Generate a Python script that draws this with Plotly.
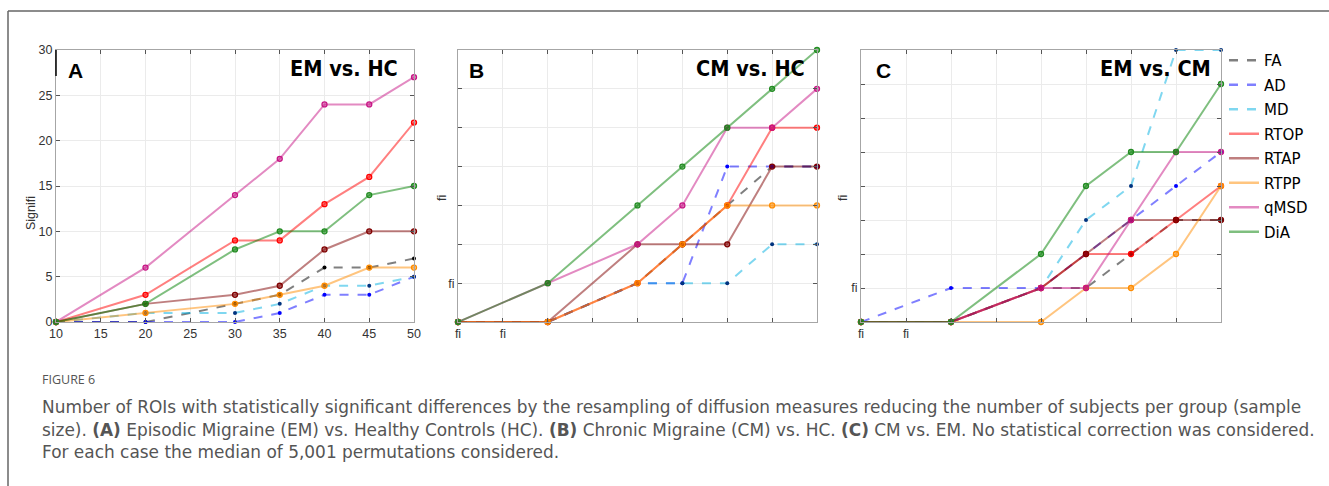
import plotly.graph_objects as go

W, H = 1329, 486

# ---------------- data ----------------
sample_sizes = [10, 20, 30, 35, 40, 45, 50]
series_names = ["FA", "AD", "MD", "RTOP", "RTAP", "RTPP", "qMSD", "DiA"]

# Panel A: EM vs. HC
FA_A = [0, 0, 2, 3, 6, 6, 7]
AD_A = [0, 0, 0, 1, 3, 3, 5]
MD_A = [0, 1, 1, 2, 4, 4, 5]
RTOP_A = [0, 3, 9, 9, 13, 16, 22]
RTAP_A = [0, 2, 3, 4, 8, 10, 10]
RTPP_A = [0, 1, 2, 3, 4, 6, 6]
qMSD_A = [0, 6, 14, 18, 24, 24, 27]
DiA_A = [0, 2, 8, 10, 10, 14, 15]

# Panel B: CM vs. HC
FA_B = [0, 0, 1, 2, 3, 4, 4]
AD_B = [0, 0, 1, 1, 4, 4, 4]
MD_B = [0, 0, 1, 1, 1, 2, 2]
RTOP_B = [0, 0, 1, 2, 3, 5, 5]
RTAP_B = [0, 0, 2, 2, 2, 4, 4]
RTPP_B = [0, 0, 1, 2, 3, 3, 3]
qMSD_B = [0, 1, 2, 3, 5, 5, 6]
DiA_B = [0, 1, 3, 4, 5, 6, 7]

# Panel C: EM vs. CM
FA_C = [0, 0, 1, 1, 2, 3, 3]
AD_C = [0, 1, 1, 2, 3, 4, 5]
MD_C = [0, 0, 1, 3, 4, 8, 8]
RTOP_C = [0, 0, 1, 2, 2, 3, 4]
RTAP_C = [0, 0, 1, 2, 3, 3, 3]
RTPP_C = [0, 0, 0, 1, 1, 2, 4]
qMSD_C = [0, 0, 1, 1, 3, 5, 5]
DiA_C = [0, 0, 2, 4, 5, 5, 7]

x_ticks = [10, 15, 20, 25, 30, 35, 40, 45, 50]
x_ticktext_A = ["10", "15", "20", "25", "30", "35", "40", "45", "50"]
x_ticktext_BC = ["fi", "fi", "", "", "", "", "", "", ""]
y_ticks_A = [0, 5, 10, 15, 20, 25, 30]
y_ticks_B = [0, 1, 2, 3, 4, 5, 6, 7]
y_ticks_C = [0, 1, 2, 3, 4, 5, 6, 7, 8]

panel_data = [
    [FA_A, AD_A, MD_A, RTOP_A, RTAP_A, RTPP_A, qMSD_A, DiA_A],
    [FA_B, AD_B, MD_B, RTOP_B, RTAP_B, RTPP_B, qMSD_B, DiA_B],
    [FA_C, AD_C, MD_C, RTOP_C, RTAP_C, RTPP_C, qMSD_C, DiA_C],
]

# ---------------- styles ----------------
line_colors = {
    "FA": "rgba(0,0,0,0.5)",
    "AD": "rgba(0,0,255,0.5)",
    "MD": "rgba(0,175,225,0.5)",
    "RTOP": "rgba(255,0,0,0.5)",
    "RTAP": "rgba(128,0,0,0.5)",
    "RTPP": "rgba(255,140,0,0.5)",
    "qMSD": "rgba(199,21,133,0.5)",
    "DiA": "rgba(0,128,0,0.5)",
}
marker_colors = {
    "FA": "#000000",
    "AD": "#0000ff",
    "MD": "#00337f",
    "RTOP": "#ff0000",
    "RTAP": "#800000",
    "RTPP": "#ff8c00",
    "qMSD": "#c71585",
    "DiA": "#228b22",
}
dashed = {"FA", "AD", "MD"}


def xp(px):
    return px / W


def yp(py):
    return 1 - py / H


domains_x = [(56, 414), (458, 817), (861, 1221)]
dom_y = (yp(322), yp(50))

fig = go.Figure()

for p, data in enumerate(panel_data):
    xa = "x" if p == 0 else f"x{p+1}"
    ya = "y" if p == 0 else f"y{p+1}"
    for name, vals in zip(series_names, data):
        is_dash = name in dashed
        if is_dash:
            marker = dict(size=4, color=marker_colors[name])
        else:
            marker = dict(size=5, color=line_colors[name],
                          line=dict(color=marker_colors[name], width=1.3))
        fig.add_trace(go.Scatter(
            x=sample_sizes, y=vals, mode="lines+markers", name=name,
            legendgroup=name, showlegend=False,
            line=dict(color=line_colors[name], width=2,
                      dash="dash" if is_dash else "solid"),
            marker=marker, cliponaxis=False,
            xaxis=xa, yaxis=ya,
        ))

# legend entries (line samples only, as in the reference)
for name in series_names:
    fig.add_trace(go.Scatter(
        x=[None], y=[None], mode="lines", name=name, legendgroup=name,
        showlegend=True,
        line=dict(color=line_colors[name], width=2.5,
                  dash="dash" if name in dashed else "solid"),
        xaxis="x", yaxis="y",
    ))

tick_font = dict(family="Liberation Sans, Arial, sans-serif", size=12.5, color="#333333")
axis_common = dict(
    showgrid=True, gridcolor="#ebebeb", gridwidth=1,
    showline=True, linecolor="#a6a6a6", linewidth=1, mirror="ticks",
    ticks="inside", ticklen=4, tickcolor="#555555", tickwidth=1,
    zeroline=False, tickfont=tick_font, fixedrange=True, automargin=False,
)

layout_axes = {}
y_ranges = [(0, 30), (0, 7), (0, 8)]
y_tickvals = [y_ticks_A, y_ticks_B, y_ticks_C]
for p in range(3):
    suffix = "" if p == 0 else str(p + 1)
    x0, x1 = domains_x[p]
    if p == 0:
        ytext = [str(v) for v in y_ticks_A]
        xtext = x_ticktext_A
    else:
        ytext = ["fi" if v == 1 else "" for v in y_tickvals[p]]
        xtext = x_ticktext_BC
    layout_axes["xaxis" + suffix] = dict(
        axis_common, domain=[xp(x0), xp(x1)], range=[10, 50],
        tickvals=x_ticks, ticktext=xtext,
        anchor="y" + suffix,
    )
    layout_axes["yaxis" + suffix] = dict(
        axis_common, domain=list(dom_y), range=list(y_ranges[p]),
        tickvals=y_tickvals[p], ticktext=ytext,
        anchor="x" + suffix,
    )

fig.update_layout(**layout_axes)

annotations = []
# panel letters
for letter, cx in zip(["A", "B", "C"], [75, 476, 883]):
    annotations.append(dict(
        x=xp(cx), y=yp(70), xref="paper", yref="paper", text=f"<b>{letter}</b>",
        showarrow=False, xanchor="center", yanchor="middle",
        font=dict(family="Liberation Sans, Arial, sans-serif", size=21, color="#000000"),
    ))
# panel titles
for title, right in zip(["EM vs. HC", "CM vs. HC", "EM vs. CM"], [400, 807, 1213]):
    annotations.append(dict(
        x=xp(right), y=yp(68), xref="paper", yref="paper", text=f"<b>{title}</b>",
        showarrow=False, xanchor="right", yanchor="middle",
        font=dict(family="Liberation Sans Narrow, DejaVu Sans Condensed, Arial Narrow, sans-serif",
                  size=21.5, color="#000000"),
    ))
# y-axis titles
for txt, cx, cy in [("Signifi", 31, 213), ("fi", 442, 198), ("fi", 843, 198)]:
    annotations.append(dict(
        x=xp(cx), y=yp(cy), xref="paper", yref="paper", text=txt,
        showarrow=False, xanchor="center", yanchor="middle", textangle=-90,
        font=dict(family="Liberation Sans, Arial, sans-serif", size=12.5, color="#333333"),
    ))
# caption
annotations.append(dict(
    x=xp(40), y=yp(379), xref="paper", yref="paper", text="FIGURE 6",
    showarrow=False, xanchor="left", yanchor="middle",
    font=dict(family="Open Sans, sans-serif", size=12.5, color="#555555"),
))
caption_lines = [
    "Number of ROIs with statistically significant differences by the resampling of diffusion measures reducing the number of subjects per group (sample",
    "size). <b>(A)</b> Episodic Migraine (EM) vs. Healthy Controls (HC). <b>(B)</b> Chronic Migraine (CM) vs. HC. <b>(C)</b> CM vs. EM. No statistical correction was considered.",
    "For each case the median of 5,001 permutations considered.",
]
for i, line in enumerate(caption_lines):
    annotations.append(dict(
        x=xp(40), y=yp(407 + 22.5 * i), xref="paper", yref="paper", text=line,
        showarrow=False, xanchor="left", yanchor="middle",
        font=dict(family="DejaVu Sans, sans-serif", size=16.95, color="#555555"),
    ))

shapes = [
    # outer frame (top and left)
    dict(type="line", xref="paper", yref="paper", x0=xp(8), x1=1, y0=yp(11), y1=yp(11),
         line=dict(color="#666666", width=1.5)),
    dict(type="line", xref="paper", yref="paper", x0=xp(8), x1=xp(8), y0=yp(11), y1=0,
         line=dict(color="#666666", width=1.5)),
    # dark segment on panel A left edge
    dict(type="line", xref="paper", yref="paper", x0=xp(56), x1=xp(56), y0=yp(50), y1=yp(76),
         line=dict(color="#000000", width=1.5)),
]

fig.update_layout(
    width=W, height=H,
    margin=dict(l=0, r=0, t=0, b=0, pad=0, autoexpand=False),
    paper_bgcolor="white", plot_bgcolor="white",
    annotations=annotations, shapes=shapes,
    showlegend=True,
    legend=dict(
        x=xp(1224), y=yp(44), xanchor="left", yanchor="top",
        font=dict(family="DejaVu Sans, sans-serif", size=15, color="#000000"),
        bgcolor="rgba(0,0,0,0)", tracegroupgap=2, itemwidth=30,
    ),
)

post = """
document.documentElement.style.margin='0';
document.documentElement.style.padding='0';
document.documentElement.style.overflow='hidden';
document.body.style.margin='0';
document.body.style.padding='0';
document.body.style.overflow='hidden';
"""

fig.write_html("out.html", post_script=post, config={"displayModeBar": False})
